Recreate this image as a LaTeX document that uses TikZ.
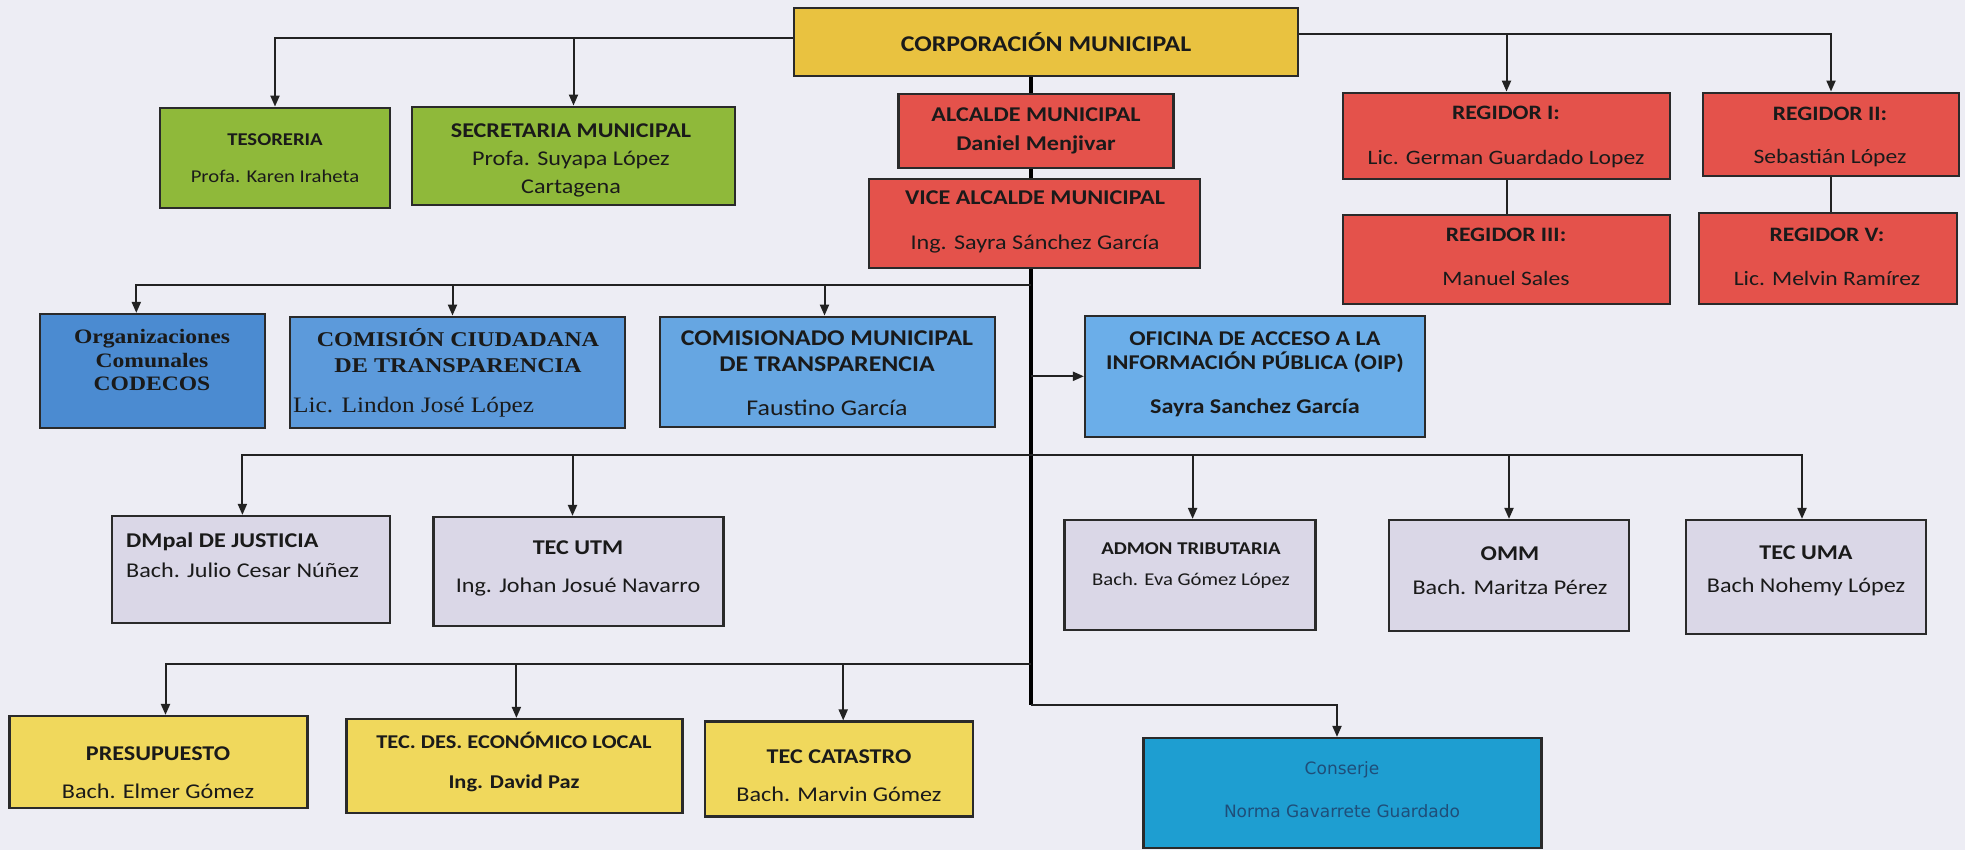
\documentclass[tikz,border=0pt]{standalone}
\usepackage{fontspec}
\setmainfont{Carlito}[FakeStretch=1.15]
\newfontfamily\serifF{Liberation Serif}[FakeStretch=1.15]
\newfontfamily\dejaF{DejaVu Sans}
\usetikzlibrary{arrows.meta}
\pgfdeclarelayer{bg}
\pgfdeclarelayer{lines}
\pgfsetlayers{bg,lines,main}
\definecolor{bgc}{HTML}{EDEDF4}
\definecolor{bordc}{HTML}{2A2A2A}
\definecolor{linec}{HTML}{222222}
\definecolor{txc}{HTML}{1A1A1A}
\definecolor{yel}{HTML}{E9C240}
\definecolor{grn}{HTML}{8FB93A}
\definecolor{redb}{HTML}{E4524B}
\definecolor{blu1}{HTML}{4B8BD1}
\definecolor{blu2}{HTML}{5C9ADB}
\definecolor{blu3}{HTML}{66A6E2}
\definecolor{blu4}{HTML}{6BAEE9}
\definecolor{gry}{HTML}{DAD7E7}
\definecolor{pyel}{HTML}{F0D85C}
\definecolor{cyan}{HTML}{1E9ED1}
\definecolor{contx}{HTML}{1F4E79}
\begin{document}
\begin{tikzpicture}[x=1pt,y=-1pt,
  box/.style={draw=bordc, line width=2.2pt, inner sep=0pt},
  tx/.style={inner sep=0pt, align=center, text=txc},
  conn/.style={draw=linec, line width=2pt},
  arr/.style={conn, -{Triangle[length=11pt,width=9pt]}},
  trunk/.style={draw=black, line width=4.5pt},
]
\begin{pgfonlayer}{bg}
\fill[bgc] (0,0) rectangle (1965,850);
\end{pgfonlayer}
\useasboundingbox (0,0) rectangle (1965,850);

% ---------- boxes ----------
\node[box, fill=yel, minimum width=504pt, minimum height=68pt] (corp) at (1045.6,42) {};
\node[box, fill=grn, minimum width=230.6pt, minimum height=100.6pt] (tes) at (275,158) {};
\node[box, fill=grn, minimum width=323pt, minimum height=98.3pt] (sec) at (573.5,155.8) {};
\node[box, fill=redb, minimum width=275pt, minimum height=74pt] (alc) at (1036,131.3) {};
\node[box, fill=redb, minimum width=331pt, minimum height=88.7pt] (vice) at (1034.5,223.3) {};
\node[box, fill=redb, minimum width=327pt, minimum height=86.6pt] (r1) at (1506.5,136) {};
\node[box, fill=redb, minimum width=255.5pt, minimum height=83.3pt] (r2) at (1831,134.3) {};
\node[box, fill=redb, minimum width=327pt, minimum height=89.3pt] (r3) at (1506.5,259.7) {};
\node[box, fill=redb, minimum width=258pt, minimum height=91.6pt] (r5) at (1828,258.5) {};

\node[box, fill=blu1, minimum width=224.7pt, minimum height=114pt] (org) at (152.3,371) {};
\node[box, fill=blu2, minimum width=335pt, minimum height=111.6pt] (cct) at (457.5,372.5) {};
\node[box, fill=blu3, minimum width=335pt, minimum height=110pt] (cmt) at (827.5,371.7) {};
\node[box, fill=blu4, minimum width=339.6pt, minimum height=120.7pt] (oip) at (1254.8,376.3) {};

\node[box, fill=gry, minimum width=278.7pt, minimum height=107pt] (dmp) at (251,569.5) {};
\node[box, fill=gry, minimum width=290pt, minimum height=109pt] (utm) at (578.5,571.5) {};
\node[box, fill=gry, minimum width=251pt, minimum height=110pt] (adm) at (1190,575) {};
\node[box, fill=gry, minimum width=240pt, minimum height=111pt] (omm) at (1509,575.5) {};
\node[box, fill=gry, minimum width=240pt, minimum height=114pt] (uma) at (1806,577) {};

\node[box, fill=pyel, minimum width=298pt, minimum height=92pt] (pre) at (158.5,762) {};
\node[box, fill=pyel, minimum width=336pt, minimum height=94pt] (ted) at (514.4,766) {};
\node[box, fill=pyel, minimum width=268pt, minimum height=95pt] (cat) at (838.7,769) {};
\node[box, fill=cyan, minimum width=398pt, minimum height=110pt] (con) at (1342.5,793) {};

% ---------- texts ----------
\node[tx, font=\bfseries\fontsize{22.5}{27}\selectfont] (corpT) at (1046,42) {CORPORACIÓN MUNICIPAL};
\node[tx, font=\fontsize{18}{37}\selectfont] (tesT) at (275,158) {\textbf{TESORERIA}\\Profa. Karen Iraheta};
\node[tx, font=\fontsize{21}{28}\selectfont] (secT) at (571,160) {\textbf{SECRETARIA MUNICIPAL}\\Profa. Suyapa López\\Cartagena};
\node[tx, font=\bfseries\fontsize{21}{28.3}\selectfont] (alcT) at (1036,131) {ALCALDE MUNICIPAL\\Daniel Menjivar};
\node[tx, font=\fontsize{21}{44.3}\selectfont] (viceT) at (1035,222) {\textbf{VICE ALCALDE MUNICIPAL}\\Ing. Sayra Sánchez García};
\node[tx, font=\fontsize{20.5}{44.3}\selectfont] (r1T) at (1506,137) {\textbf{REGIDOR I:}\\Lic. German Guardado Lopez};
\node[tx, font=\fontsize{20.5}{43}\selectfont] (r2T) at (1830,136.5) {\textbf{REGIDOR II:}\\Sebastián López};
\node[tx, font=\fontsize{20.5}{43.3}\selectfont] (r3T) at (1506,257) {\textbf{REGIDOR III:}\\Manuel Sales};
\node[tx, font=\fontsize{20.5}{44.3}\selectfont] (r5T) at (1827,257) {\textbf{REGIDOR V:}\\Lic. Melvin Ramírez};

\node[tx, font=\serifF\bfseries\fontsize{20.5}{23.5}\selectfont] (orgT) at (152,360) {Organizaciones\\Comunales\\CODECOS};
\node[tx, font=\serifF\bfseries\fontsize{21}{26}\selectfont] (cctT) at (458,351) {COMISIÓN CIUDADANA\\DE TRANSPARENCIA};
\node[tx, anchor=west, font=\serifF\fontsize{22}{26}\selectfont] (cctN) at (293,407) {Lic. Lindon José López};
\node[tx, font=\fontsize{22.5}{26}\selectfont] (cmtT) at (827,373) {\textbf{COMISIONADO MUNICIPAL}\\\textbf{DE TRANSPARENCIA}\\[18pt]Faustino García};
\node[tx, font=\bfseries\fontsize{21}{24.3}\selectfont] (oipT) at (1255,374) {OFICINA DE ACCESO A LA\\INFORMACIÓN PÚBLICA (OIP)\\[19pt]Sayra Sanchez García};

\node[tx, anchor=west, align=left, font=\fontsize{21}{30}\selectfont] (dmpT) at (126,555) {\textbf{DMpal DE JUSTICIA}\\Bach. Julio Cesar Núñez};
\node[tx, font=\fontsize{21}{38}\selectfont] (utmT) at (578,568) {\textbf{TEC UTM}\\Ing. Johan Josué Navarro};
\node[tx, font=\fontsize{18}{31}\selectfont] (admT) at (1191,565.5) {\textbf{ADMON TRIBUTARIA}\\Bach. Eva Gómez López};
\node[tx, font=\fontsize{21}{34}\selectfont] (ommT) at (1510,571) {\textbf{OMM}\\Bach. Maritza Pérez};
\node[tx, font=\fontsize{21}{33}\selectfont] (umaT) at (1806,570.5) {\textbf{TEC UMA}\\Bach Nohemy López};

\node[tx, font=\fontsize{21}{38}\selectfont] (preT) at (158,773) {\textbf{PRESUPUESTO}\\Bach. Elmer Gómez};
\node[tx, font=\bfseries\fontsize{19.5}{40}\selectfont] (tedT) at (514,762) {TEC. DES. ECONÓMICO LOCAL\\Ing. David Paz};
\node[tx, font=\fontsize{21}{38}\selectfont] (catT) at (839,776) {\textbf{TEC CATASTRO}\\Bach. Marvin Gómez};
\node[tx, text=contx, font=\dejaF\fontsize{17}{42.4}\selectfont] (conT) at (1342,789.5) {Conserje\\Norma Gavarrete Guardado};

% ---------- connectors ----------
\begin{pgfonlayer}{lines}
\coordinate (tl) at ([yshift=4pt]corp.west);
\coordinate (tr) at ([yshift=7.7pt]corp.east);
\coordinate (tA) at ([xshift=-14.6pt]corp.south);
\coordinate (tB) at (tA |- 0,705);
\coordinate (j1) at (tA |- 0,285.5);
\coordinate (j3) at (tA |- 0,454.5);
\coordinate (j4) at (tA |- 0,664);

\draw[arr] (tl) -| (tes.north);
\draw[arr] (tl -| sec.north) -- (sec.north);
\draw[arr] (tr) -| (r2.north);
\draw[arr] (tr -| r1.north) -- (r1.north);
\draw[conn] (r1.south) -- (r3.north);
\draw[conn] (r2.south) -- (r2.south |- r5.north);

\draw[trunk] (tA) -- (tB);

\draw[arr] (j1) -| ([xshift=-16pt]org.north);
\draw[arr] ([xshift=-5pt]j1 -| cct.north) -- ([xshift=-5pt]cct.north);
\draw[arr] ([xshift=-3pt]j1 -| cmt.north) -- ([xshift=-3pt]cmt.north);
\draw[arr] (oip.west -| tA) -- (oip.west);

\draw[arr] (j3) -| ([xshift=-8.6pt]dmp.north);
\draw[arr] ([xshift=-6pt]j3 -| utm.north) -- ([xshift=-6pt]utm.north);
\draw[arr] ([xshift=2.6pt]j3 -| adm.north) -- ([xshift=2.6pt]adm.north);
\draw[arr] (j3 -| omm.north) -- (omm.north);
\draw[arr] (j3) -| ([xshift=-4pt]uma.north);

\draw[arr] (j4) -| ([xshift=7pt]pre.north);
\draw[arr] ([xshift=2pt]j4 -| ted.north) -- ([xshift=2pt]ted.north);
\draw[arr] ([xshift=4.5pt]j4 -| cat.north) -- ([xshift=4.5pt]cat.north);

\draw[arr] (tB) -| ([xshift=-5.5pt]con.north);
\end{pgfonlayer}
\end{tikzpicture}
\end{document}
